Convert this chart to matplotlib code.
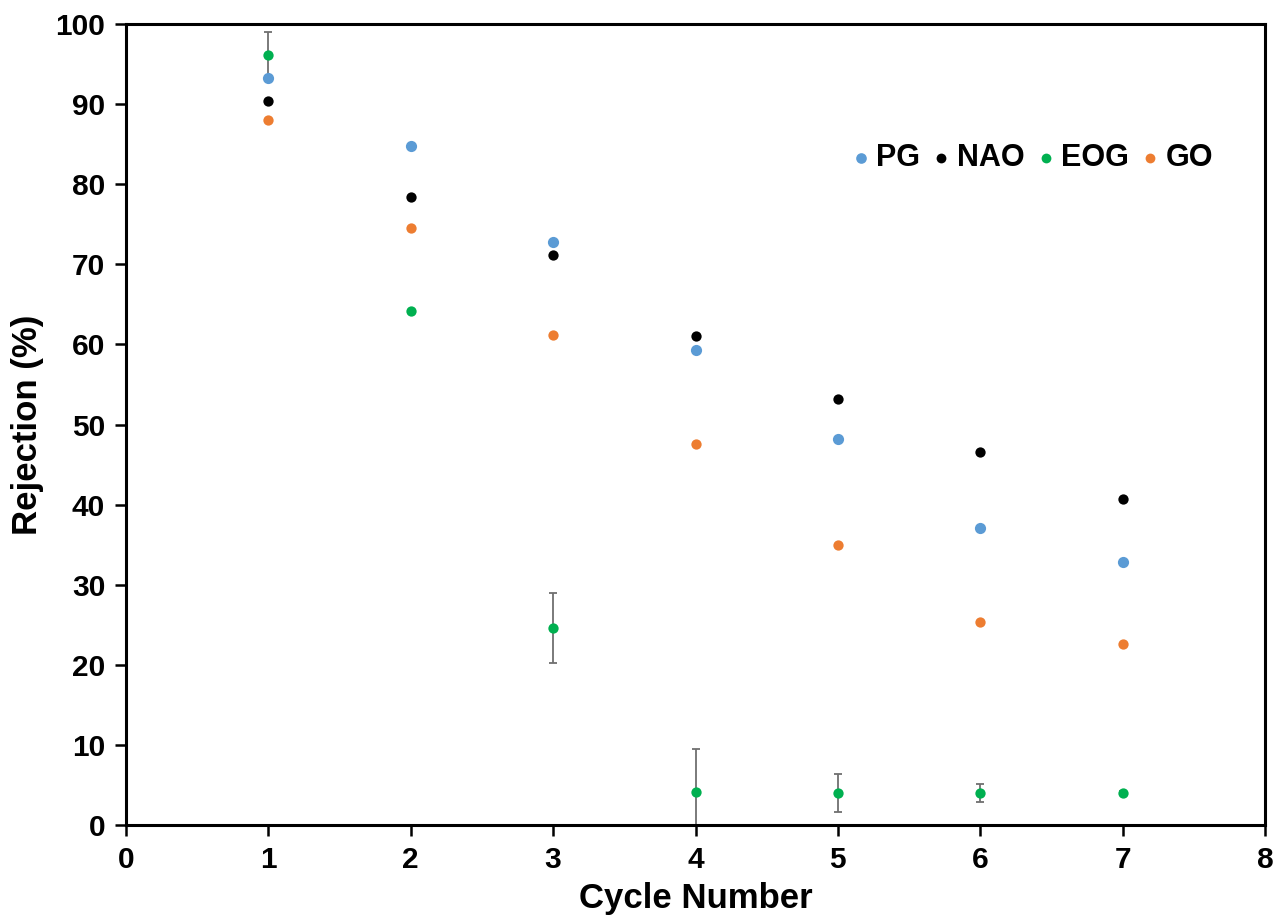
import matplotlib
matplotlib.use("Agg")
import matplotlib.pyplot as plt

plt.rcParams['font.family'] = ['Liberation Sans', 'DejaVu Sans']

cycles = [1, 2, 3, 4, 5, 6, 7]
pg = [93.3, 84.8, 72.8, 59.3, 48.2, 37.1, 32.8]
nao = [90.4, 78.4, 71.2, 61.0, 53.2, 46.6, 40.7]
eog = [96.1, 64.2, 24.6, 4.1, 4.0, 4.0, 4.0]
eog_err = [2.9, 0.0, 4.4, 5.4, 2.4, 1.1, 0.3]
go = [88.0, 74.5, 61.2, 47.6, 35.0, 25.3, 22.6]

series = [("PG", pg, "#5B9BD5", 65), ("NAO", nao, "#000000", 55),
          ("EOG", eog, "#00B050", 55), ("GO", go, "#ED7D31", 55)]

fig = plt.figure(figsize=(12.76, 9.24), dpi=100)
ax = fig.add_axes([126/1276, 1 - 825/924, (1265-126)/1276, (825-24)/924])

idx = [i for i, e in enumerate(eog_err) if e > 0]
ax.errorbar([cycles[i] for i in idx], [eog[i] for i in idx],
            yerr=[eog_err[i] for i in idx], fmt='none', ecolor='#6f6f6f',
            elinewidth=1.3, capsize=3, capthick=1.3, zorder=2, clip_on=True)
for name, vals, col, sz in series:
    ax.scatter(cycles, vals, s=sz, color=col, label=name, zorder=3, linewidths=0)

ax.set_xlim(0, 8)
ax.set_ylim(0, 100)
ax.set_xticks(range(0, 9))
ax.set_yticks(range(0, 101, 10))
for sp in ax.spines.values():
    sp.set_linewidth(2.2)
ax.tick_params(direction='out', length=8, width=1.8, labelsize=21.5, pad=7)
for lbl in ax.get_xticklabels() + ax.get_yticklabels():
    lbl.set_fontweight('bold')
ax.set_xlabel("Cycle Number", fontsize=25, fontweight='bold', labelpad=6)
ax.set_ylabel("Rejection (%)", fontsize=25, fontweight='bold')
ax.yaxis.set_label_coords(-0.072, 0.5)

leg = ax.legend(loc='center left', bbox_to_anchor=(0.629, 0.8325), ncol=4,
                frameon=False, prop={'weight': 'bold', 'size': 22},
                handletextpad=-0.1, columnspacing=0.1, markerscale=0.95,
                handlelength=1.2, borderaxespad=0, borderpad=0)

fig.savefig("out.png", dpi=100)
